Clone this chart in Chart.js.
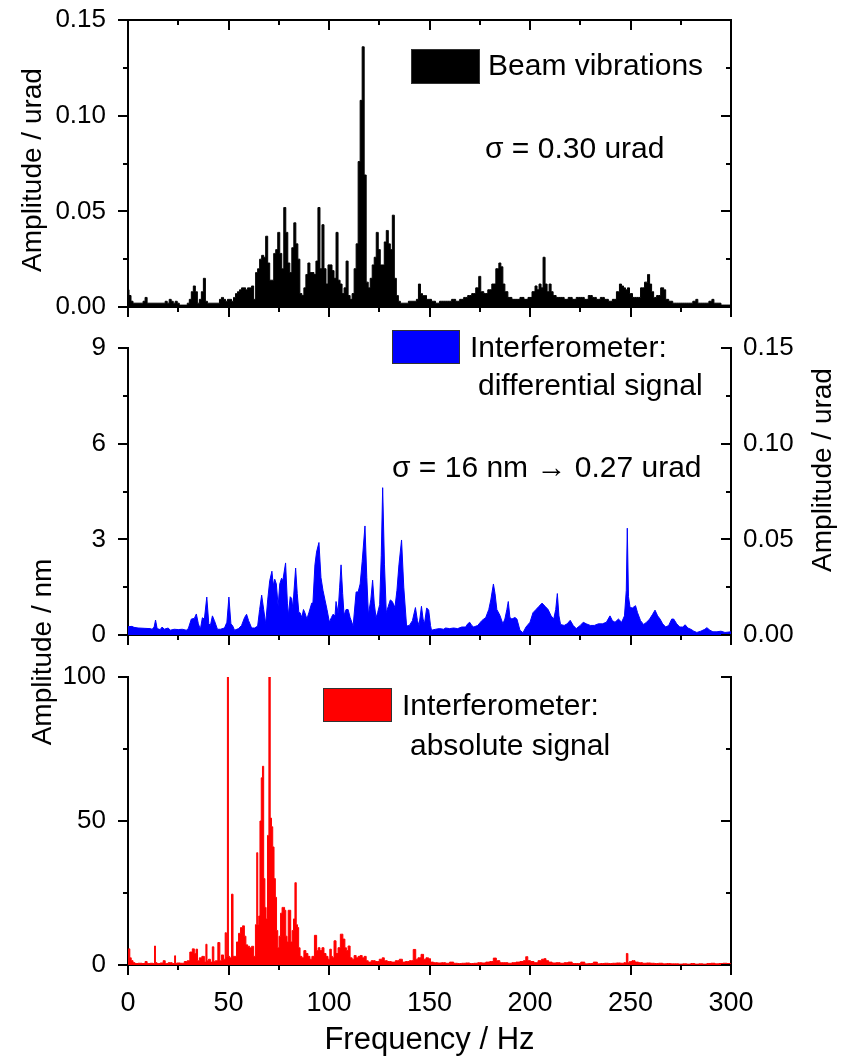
<!DOCTYPE html>
<html>
<head>
<meta charset="utf-8">
<script src="https://cdn.jsdelivr.net/npm/chart.js@4.4.1/dist/chart.umd.min.js"></script>
<style>
    html, body { margin: 0; padding: 0; background: #fff; }
    #wrap { position: relative; width: 849px; height: 1061px; }
    #wrap canvas { position: absolute; left: 0; top: 0; }
</style>
</head>
<body>
<div id="wrap">
    <canvas id="beam" width="849" height="1061"></canvas>
    <canvas id="diff" width="849" height="1061"></canvas>
    <canvas id="abs" width="849" height="1061"></canvas>
</div>
<script>
// ---- data ----

// beam vibrations, urad
const beamHz = [
    0, 1, 2, 3, 4, 5, 6, 7, 8, 9,
    10, 11, 12, 13, 14, 15, 16, 17, 18, 19,
    20, 21, 22, 23, 24, 25, 26, 27, 28, 29,
    30, 31, 32, 33, 34, 35, 36, 37, 38, 39,
    40, 41, 42, 43, 44, 45, 46, 47, 48, 49,
    50, 51, 52, 53, 54, 55, 56, 57, 58, 59,
    60, 61, 62, 63, 64, 65, 66, 67, 68, 69,
    70, 71, 72, 73, 74, 75, 76, 77, 78, 79,
    80, 81, 82, 83, 84, 85, 86, 87, 88, 89,
    90, 91, 92, 93, 94, 95, 96, 97, 98, 99,
    100, 101, 102, 103, 104, 105, 106, 107, 108, 109,
    110, 111, 112, 113, 114, 115, 116, 117, 118, 119,
    120, 121, 122, 123, 124, 125, 126, 127, 128, 129,
    130, 131, 132, 133, 134, 135, 136, 137, 138, 139,
    140, 141, 142, 143, 144, 145, 146, 147, 148, 149, 150,
    152, 154, 156, 158, 160, 162, 164, 166, 168, 170,
    172, 174, 175, 176, 178, 180, 182, 184, 185, 186,
    187, 188, 190, 192, 194, 196, 198, 200, 202, 203,
    204, 205, 206, 207, 208, 209, 210, 211, 212, 214,
    216, 218, 220, 222, 224, 226, 228, 230, 232, 234,
    236, 238, 240, 242, 244, 245, 246, 247, 248, 249,
    250, 252, 254, 256, 258, 259, 260, 261, 262, 264,
    266, 267, 268, 270, 272, 274, 276, 278, 280, 282,
    283, 284, 286, 288, 290, 291, 292, 294, 296, 298,
    300
];
const beamAmp = [
    0.009, 0.006, 0.003, 0.002, 0.002, 0.002, 0.002, 0.002, 0.003, 0.005,
    0.002, 0.002, 0.002, 0.002, 0.002, 0.002, 0.002, 0.002, 0.002, 0.003,
    0.002, 0.004, 0.003, 0.002, 0.003, 0.002, 0.001, 0.001, 0.001, 0.001,
    0.002, 0.004, 0.008, 0.011, 0.008, 0.002, 0.004, 0.008, 0.015, 0.003,
    0.002, 0.002, 0.002, 0.002, 0.002, 0.002, 0.004, 0.005, 0.004, 0.003,
    0.004, 0.004, 0.003, 0.005, 0.007, 0.008, 0.009, 0.010, 0.010, 0.009,
    0.010, 0.010, 0.011, 0.004, 0.018, 0.020, 0.025, 0.027, 0.026, 0.037,
    0.023, 0.014, 0.014, 0.028, 0.030, 0.039, 0.028, 0.020, 0.052, 0.039,
    0.023, 0.018, 0.031, 0.044, 0.033, 0.025, 0.007, 0.006, 0.010, 0.017,
    0.023, 0.018, 0.018, 0.017, 0.024, 0.052, 0.020, 0.043, 0.020, 0.012,
    0.022, 0.022, 0.019, 0.015, 0.039, 0.014, 0.012, 0.007, 0.010, 0.024,
    0.006, 0.004, 0.007, 0.020, 0.033, 0.076, 0.108, 0.136, 0.069, 0.013,
    0.010, 0.015, 0.022, 0.026, 0.039, 0.030, 0.022, 0.022, 0.034, 0.040,
    0.033, 0.030, 0.048, 0.015, 0.006, 0.003, 0.002, 0.002, 0.002, 0.002,
    0.003, 0.003, 0.003, 0.003, 0.004, 0.012, 0.007, 0.006, 0.006, 0.004, 0.004,
    0.003, 0.002, 0.003, 0.003, 0.003, 0.004, 0.003, 0.004, 0.005, 0.006,
    0.007, 0.010, 0.016, 0.008, 0.007, 0.009, 0.012, 0.020, 0.023, 0.021,
    0.012, 0.008, 0.005, 0.004, 0.004, 0.005, 0.004, 0.005, 0.008, 0.011,
    0.009, 0.012, 0.010, 0.026, 0.012, 0.008, 0.012, 0.008, 0.006, 0.005,
    0.005, 0.004, 0.005, 0.004, 0.005, 0.005, 0.004, 0.006, 0.005, 0.004,
    0.005, 0.004, 0.003, 0.004, 0.008, 0.012, 0.011, 0.010, 0.009, 0.010,
    0.007, 0.005, 0.005, 0.010, 0.013, 0.017, 0.012, 0.008, 0.005, 0.006,
    0.010, 0.009, 0.004, 0.003, 0.002, 0.002, 0.002, 0.002, 0.002, 0.003,
    0.004, 0.002, 0.002, 0.002, 0.003, 0.004, 0.002, 0.002, 0.001, 0.001,
    0.001
];

// interferometer differential signal, nm
const diffHz = [
    0, 2, 3, 5, 8, 11, 12, 13, 13.7, 14.5,
    16, 17, 18, 20, 21, 23, 25, 27, 29, 30,
    31.5, 33, 34, 35, 36, 37, 38, 39.2, 40.2, 41,
    42, 43, 44.5, 46, 48, 49.2, 50.2, 51.2, 52, 53,
    55, 56.5, 58, 59, 60, 61.5, 63, 64.5, 65.5, 66.5,
    67.5, 68.5, 69.5, 70.5, 71.6, 72.3, 73, 73.8, 74.7, 75.5,
    76.4, 77, 78.4, 79.3, 79.8, 80.7, 81.4, 82, 83.4, 84.2,
    85, 85.6, 86.5, 87.3, 88, 89, 90, 91.4, 92, 93,
    93.8, 95, 96, 97, 98, 99, 100.2, 101.2, 102, 103,
    103.5, 104.5, 105.3, 106, 106.8, 107.5, 108.5, 109.5, 110.5, 112,
    113.5, 114.5, 115.5, 116.5, 117.9, 118.8, 119.6, 120.8, 121.7, 122.5,
    123.4, 124.2, 125.2, 126, 126.7, 127.6, 128.5, 129.5, 130.5, 131.5,
    132.8, 133.8, 134.8, 136.1, 137.2, 138.6, 140, 141.5, 143, 144,
    144.8, 146, 146.8, 147.5, 148.6, 149.6, 150.5, 151, 153, 155,
    157, 158, 160, 162, 164, 166, 168, 169, 170, 171,
    172, 174, 176, 178, 179.5, 180.5, 181.8, 182.6, 183.5, 185,
    186.5, 187.5, 188.5, 189.2, 190, 191, 192.5, 193.5, 195, 196.5,
    198, 200, 201.5, 203, 204.5, 206, 207.5, 209, 210.5, 211.8,
    212.8, 213.6, 214.4, 215.2, 217, 218.5, 220, 221.5, 223, 225,
    226.5, 228, 230, 232, 234, 236, 238, 239.8, 241, 242.3,
    244, 245.6, 247, 247.9, 248.4, 249, 249.8, 251, 252.5, 253.5,
    255, 256.5, 258, 259.5, 261, 262.2, 263.5, 264.7, 266, 267.5,
    269, 270.5, 271.5, 273, 274.5, 276, 277.2, 278.5, 280, 281.5,
    283, 285, 287, 288, 289.5, 291, 293, 295, 297, 300
];
const diffAmp = [
    0.26, 0.27, 0.24, 0.22, 0.21, 0.2, 0.18, 0.25, 0.47, 0.2,
    0.17, 0.25, 0.18, 0.22, 0.15, 0.18, 0.17, 0.18, 0.15, 0.2,
    0.5, 0.52, 0.66, 0.35, 0.18, 0.54, 0.5, 1.19, 0.35, 0.3,
    0.6, 0.45, 0.18, 0.18, 0.22, 0.4, 1.19, 0.35, 0.3, 0.15,
    0.2, 0.3, 0.55, 0.65, 0.45, 0.22, 0.22, 0.28, 0.8, 1.25,
    0.8, 0.35, 1.1, 1.7, 2.0, 1.55, 1.75, 1.6, 0.9, 1.6,
    1.78, 1.7, 2.26, 1.0, 0.62, 1.2, 1.15, 0.85, 2.1, 1.3,
    0.7, 0.7, 0.55, 0.8, 0.7, 0.5, 0.7, 1.0, 1.0, 2.2,
    2.6, 2.9, 1.8, 1.4, 1.1, 0.8, 0.4, 0.55, 0.65, 0.6,
    1.05, 0.7, 1.5, 2.2, 1.3, 0.62, 0.8, 0.8, 0.55, 0.28,
    1.35, 1.35, 1.6, 2.3, 3.42, 1.8, 0.64, 1.1, 1.72, 1.0,
    0.54, 0.7, 0.95, 2.5, 4.62, 2.2, 0.7, 0.9, 1.1, 1.05,
    0.86, 1.4, 2.2, 2.98, 1.5, 0.28, 0.3, 0.45, 0.86, 0.45,
    0.3, 0.9, 0.5, 0.35, 0.85, 0.78, 0.3, 0.15, 0.18, 0.2,
    0.18, 0.22, 0.2, 0.22, 0.2, 0.25, 0.25, 0.35, 0.4, 0.3,
    0.25, 0.3, 0.45, 0.55, 0.8, 1.1, 1.6, 1.3, 0.8, 0.62,
    0.35, 0.5, 0.8, 1.05, 0.55, 0.5, 0.55, 0.5, 0.15, 0.07,
    0.25, 0.4, 0.7, 0.8, 0.9, 1.0, 0.9, 0.8, 0.6, 0.5,
    0.8, 1.3, 0.6, 0.33, 0.3, 0.35, 0.46, 0.3, 0.2, 0.3,
    0.4, 0.35, 0.3, 0.3, 0.35, 0.35, 0.4, 0.6, 0.45, 0.4,
    0.5, 0.4, 0.6, 1.4, 3.35, 1.2, 0.86, 0.85, 0.92, 0.7,
    0.45, 0.33, 0.4, 0.5, 0.65, 0.78, 0.6, 0.5, 0.35, 0.25,
    0.3, 0.5, 0.5, 0.35, 0.25, 0.25, 0.32, 0.22, 0.18, 0.12,
    0.08, 0.12, 0.18, 0.23, 0.15, 0.1, 0.1, 0.12, 0.08, 0.1
];

// interferometer absolute signal, nm
const absHz = [
    0, 0.6, 1.2, 2, 3, 4, 6, 8, 9, 10,
    12, 13, 13.4, 13.9, 15, 17, 18, 19, 21, 23,
    23.4, 23.9, 25, 27, 29, 30, 31.5, 32.5, 33.5, 34.2,
    35, 36, 37.5, 38.5, 39, 39.6, 40.5, 41.5, 42.4, 43,
    44, 45.4, 46, 47, 48, 48.7, 49.2, 49.7, 50.2, 51,
    52, 52.5, 53.5, 54.5, 55.5, 56.5, 57.5, 58.3, 59, 60,
    61, 62, 63, 63.8, 64.3, 64.8, 65.3, 66, 66.6, 67.2,
    67.8, 68.4, 69, 69.8, 70.4, 71.1, 71.7, 72.3, 73, 73.6,
    74.2, 74.8, 75.5, 76.3, 77, 77.6, 78.2, 78.8, 79.4, 80,
    80.6, 81.3, 82, 82.7, 83.4, 84, 84.6, 85.2, 86, 87,
    88, 89, 90, 91, 92, 93.5, 94.2, 95, 96, 97,
    98, 99, 100, 100.8, 101.5, 102, 103, 104, 105, 106.3,
    107.5, 108.3, 109, 110, 111, 112, 113, 114, 115, 116,
    117, 118, 119, 120, 122, 124, 126, 127, 128, 130,
    132, 134, 136, 137, 139, 141, 142.8, 143.5, 145, 146.6,
    147.5, 149, 150, 151, 153, 155, 157, 159, 161, 163,
    165, 167, 169, 171, 173, 175, 177, 179, 181, 182.5,
    184, 186, 188, 190, 192, 194, 196, 197.5, 198.3, 199.5,
    201, 203, 205, 206.5, 207.4, 208.5, 210, 212, 214, 216,
    218, 220, 222, 224, 226.5, 228, 230, 233, 234, 236,
    238, 240, 242, 244, 246, 247.5, 248.4, 249, 250, 251.5,
    253, 255, 257, 259, 261, 263, 265, 267, 269, 271,
    273, 275, 277, 279, 281, 283, 285, 287, 289, 291,
    293, 295, 297, 299, 300
];
const absAmp = [
    2, 5.6, 2.5, 1.5, 0.8, 0.5, 0.6, 0.5, 1.2, 0.5,
    0.6, 0.5, 6.6, 0.8, 0.5, 0.7, 1.5, 0.5, 0.8, 0.5,
    3.2, 0.6, 0.7, 0.6, 1.2, 1.5, 4.5, 5.6, 4, 5.5,
    1.5, 2.5, 3, 1, 7.2, 1.5, 2, 1, 6.3, 1.2,
    1.5, 7.8, 1.5, 3.5, 2, 11.2, 3, 100, 3, 2.5,
    24.6, 3, 3, 8, 11, 13, 13.6, 10, 7, 6.5,
    6, 6.5, 3, 14, 39, 14, 17, 50, 65, 69,
    30, 20, 16, 45, 100, 51, 48, 41, 30, 23.5,
    12, 6, 10, 18, 20, 20, 19, 10, 8, 19,
    19, 8, 12, 16, 28.6, 14, 13, 6, 3, 2.5,
    5, 4, 3, 2, 3, 10.3, 5, 6, 5, 6,
    4, 3, 2, 5.5, 3, 2.5, 8.4, 4, 6, 10.7,
    9, 6, 5, 6.6, 2.5, 2, 3.3, 2.5, 3, 3.3,
    2.5, 3, 1.5, 1, 1.5, 1.2, 2, 2.5, 1.5, 1.2,
    1, 1.5, 2, 1, 1.2, 1.5, 5.4, 2, 2.5, 3.7,
    2, 2.5, 2.2, 1, 0.8, 0.7, 0.8, 0.6, 1, 0.6,
    0.5, 0.6, 0.7, 0.5, 0.6, 0.8, 0.7, 1, 1.2, 2.4,
    1.5, 0.8, 0.8, 0.6, 0.8, 1, 1.2, 1.5, 2.9, 1.5,
    1.2, 0.8, 1.5, 2, 2.2, 1.5, 1, 0.7, 0.8, 0.6,
    0.8, 1, 0.5, 0.5, 1, 0.4, 0.5, 1, 0.4, 0.5,
    0.6, 0.5, 0.6, 0.7, 0.6, 0.8, 4, 0.8, 1.2, 1.5,
    1, 0.8, 0.6, 0.7, 0.6, 0.5, 0.6, 0.4, 0.5, 0.4,
    0.4, 0.3, 0.4, 0.3, 0.5, 0.3, 0.4, 0.3, 0.5, 0.6,
    0.4, 0.5, 0.6, 0.5, 0.4
];

// ---- layout (pixels) ----
const PLOT_LEFT = 128;
const PLOT_RIGHT = 731;
const RIGHT_BOX = 100;
const W = 849, H = 1061;

const SANS = '"Liberation Sans", Arial, sans-serif';

Chart.defaults.font.family = SANS;
Chart.defaults.color = '#000';

function points(xs, ys) {
    const n = Math.min(xs.length, ys.length);
    const out = [];
    for (let i = 0; i < n; i++) out.push({ x: xs[i], y: ys[i] });
    return out;
}

// only label the major ticks, minor ticks keep their mark
function majorLabel(step, digits) {
    return function (value) {
        const r = value / step;
        return Math.abs(r - Math.round(r)) < 1e-6 ? value.toFixed(digits) : '';
    };
}

// pin axis box size so the plot area lands where the reference has it
function fixSize(size) {
    return function (scale) {
        if (scale.isHorizontal()) scale.height = size;
        else scale.width = size;
        scale.paddingLeft = scale.paddingRight = 0;
        scale.paddingTop = scale.paddingBottom = 0;
    };
}

function axis(position, min, max, step, size, labels) {
    const opts = {
        type: 'linear',
        position: position,
        min: min,
        max: max,
        grid: { display: false },
        border: { display: true, color: '#000', width: 2 },
        ticks: { display: false, stepSize: step, autoSkip: false },
        afterFit: fixSize(size)
    };
    if (labels) Object.assign(opts.ticks, labels, { display: true });
    return opts;
}

// tick marks drawn by hand: major long, minor short, in or out of the frame
function tickMarks(specs) {
    return {
        id: 'tickMarks',
        afterDraw(chart) {
            const ctx = chart.ctx;
            const a = chart.chartArea;
            ctx.save();
            ctx.strokeStyle = '#000';
            ctx.lineWidth = 2;
            specs.forEach(s => {
                const scale = chart.scales[s.id];
                const pos = scale.options.position;
                scale.ticks.forEach(t => {
                    const p = Math.round(scale.getPixelForValue(t.value));
                    const r = t.value / s.major;
                    const len = Math.abs(r - Math.round(r)) < 1e-6 ? 10 : 5;
                    const d = s.inward ? -len : len;
                    ctx.beginPath();
                    if (pos === 'left') { ctx.moveTo(a.left, p); ctx.lineTo(a.left - d, p); }
                    else if (pos === 'right') { ctx.moveTo(a.right, p); ctx.lineTo(a.right + d, p); }
                    else if (pos === 'top') { ctx.moveTo(p, a.top); ctx.lineTo(p, a.top - d); }
                    else { ctx.moveTo(p, a.bottom); ctx.lineTo(p, a.bottom + d); }
                    ctx.stroke();
                });
            });
            ctx.restore();
        }
    };
}

// legend boxes and free text
function notes(items) {
    return {
        id: 'notes',
        afterDraw(chart) {
            const ctx = chart.ctx;
            items.forEach(it => {
                ctx.save();
                if (it.box) {
                    ctx.fillStyle = it.box;
                    ctx.fillRect(it.x, it.y, it.w, it.h);
                    ctx.strokeStyle = '#333';
                    ctx.lineWidth = 1;
                    ctx.strokeRect(it.x + 0.5, it.y + 0.5, it.w - 1, it.h - 1);
                } else {
                    ctx.translate(it.x, it.y);
                    if (it.rotate) ctx.rotate(it.rotate);
                    ctx.font = it.font || ('30px ' + SANS);
                    ctx.fillStyle = '#000';
                    ctx.textAlign = it.align || 'left';
                    ctx.textBaseline = it.baseline || 'alphabetic';
                    ctx.fillText(it.text, 0, 0);
                }
                ctx.restore();
            });
        }
    };
}

function spectrum(data, color, stepped) {
    return {
        data: data,
        borderColor: color,
        backgroundColor: color,
        borderWidth: 1,
        fill: 'origin',
        stepped: stepped,
        pointRadius: 0,
        tension: 0
    };
}

const baseOptions = {
    responsive: false,
    devicePixelRatio: 1,
    animation: false,
    events: [],
    plugins: { legend: { display: false }, tooltip: { enabled: false } }
};

const yLabelFont = { size: 26, family: SANS };
const titleFont = '28px ' + SANS;

// ---- top: beam vibrations ----
new Chart(document.getElementById('beam'), {
    type: 'line',
    data: { datasets: [spectrum(points(beamHz, beamAmp), '#000', 'middle')] },
    options: Object.assign({}, baseOptions, {
        layout: { padding: { left: 0, top: 0, right: W - PLOT_RIGHT - RIGHT_BOX, bottom: H - 307 - 30 } },
        scales: {
            x: axis('bottom', 0, 300, 25, 30),
            xTop: axis('top', 0, 300, 25, 20),
            y: axis('left', 0, 0.15, 0.025, PLOT_LEFT, {
                padding: 14, font: yLabelFont, callback: majorLabel(0.05, 2)
            }),
            yRight: axis('right', 0, 0.15, 0.025, RIGHT_BOX)
        }
    }),
    plugins: [
        tickMarks([
            { id: 'x', major: 50 },
            { id: 'xTop', major: 50, inward: true },
            { id: 'y', major: 0.05 },
            { id: 'yRight', major: 0.05, inward: true }
        ]),
        notes([
            { box: '#000', x: 411, y: 49, w: 69, h: 35 },
            { text: 'Beam vibrations', x: 488, y: 75 },
            { text: '\u03c3 = 0.30 urad', x: 485, y: 158 },
            { text: 'Amplitude / urad', x: 33, y: 170, rotate: -Math.PI / 2,
              align: 'center', baseline: 'middle', font: titleFont }
        ])
    ]
});

// ---- middle: interferometer differential signal ----
new Chart(document.getElementById('diff'), {
    type: 'line',
    data: { datasets: [spectrum(points(diffHz, diffAmp), '#0000ff', false)] },
    options: Object.assign({}, baseOptions, {
        layout: { padding: { left: 0, top: 348, right: W - PLOT_RIGHT - RIGHT_BOX, bottom: H - 635 - 30 } },
        scales: {
            x: axis('bottom', 0, 300, 25, 30),
            y: axis('left', 0, 9, 1.5, PLOT_LEFT, {
                padding: 14, font: yLabelFont, callback: majorLabel(3, 0)
            }),
            yRight: axis('right', 0, 0.15, 0.025, RIGHT_BOX, {
                padding: 4, font: yLabelFont, callback: majorLabel(0.05, 2)
            })
        }
    }),
    plugins: [
        tickMarks([
            { id: 'x', major: 50 },
            { id: 'y', major: 3 },
            { id: 'yRight', major: 0.05, inward: true }
        ]),
        notes([
            { box: '#0000ff', x: 392, y: 330, w: 68, h: 34 },
            { text: 'Interferometer:', x: 470, y: 357 },
            { text: 'differential signal', x: 478, y: 395 },
            { text: '\u03c3 = 16 nm \u2192 0.27 urad', x: 392, y: 477 },
            { text: 'Amplitude / nm', x: 43, y: 652, rotate: -Math.PI / 2,
              align: 'center', baseline: 'middle', font: titleFont },
            { text: 'Amplitude / urad', x: 823, y: 470, rotate: -Math.PI / 2,
              align: 'center', baseline: 'middle', font: titleFont }
        ])
    ]
});

// ---- bottom: interferometer absolute signal ----
new Chart(document.getElementById('abs'), {
    type: 'line',
    data: { datasets: [spectrum(points(absHz, absAmp), '#ff0000', 'middle')] },
    options: Object.assign({}, baseOptions, {
        layout: { padding: { left: 0, top: 677, right: W - PLOT_RIGHT - RIGHT_BOX, bottom: 0 } },
        scales: {
            x: Object.assign(axis('bottom', 0, 300, 25, H - 965, {
                padding: 14, maxRotation: 0, font: { size: 27, family: SANS },
                callback: majorLabel(50, 0)
            }), {
                title: {
                    display: true, text: 'Frequency / Hz',
                    font: { size: 31, family: SANS }, padding: { top: 0, bottom: 2 }
                }
            }),
            y: axis('left', 0, 100, 25, PLOT_LEFT, {
                padding: 14, font: yLabelFont, callback: majorLabel(50, 0)
            }),
            yRight: axis('right', 0, 100, 25, RIGHT_BOX)
        }
    }),
    plugins: [
        tickMarks([
            { id: 'x', major: 50 },
            { id: 'y', major: 50 },
            { id: 'yRight', major: 50, inward: true }
        ]),
        notes([
            { box: '#ff0000', x: 323, y: 688, w: 69, h: 34 },
            { text: 'Interferometer:', x: 402, y: 715 },
            { text: 'absolute signal', x: 410, y: 755 }
        ])
    ]
});
</script>
</body>
</html>
